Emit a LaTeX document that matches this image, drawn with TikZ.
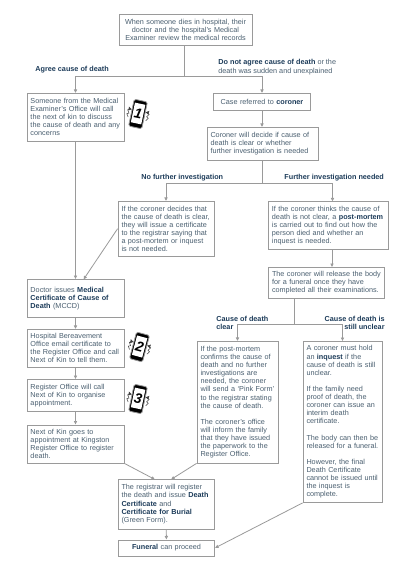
\documentclass[tikz,border=0pt]{standalone}
\usepackage{fontspec}
\setmainfont{Liberation Sans}
\usetikzlibrary{arrows.meta}
\definecolor{linegray}{HTML}{9A9A9A}
\definecolor{bodyblue}{HTML}{4A5F70}
\definecolor{headblue}{HTML}{1D3C5A}
\newcommand{\hl}[1]{\textbf{\textcolor{headblue}{#1}}}
\newcommand{\phonemark}[5]{%
  \begin{scope}[shift={(#1,#2)},rotate=#5]
    \draw [fill=black,rounded corners=1.5] (-6.7,-13.7) rectangle (6.7,13.7);
    \fill [white] (-5.3,-9.5) rectangle (5.3,10.5);
    \node [digit,rotate=#5] (#3) at (0,0.5) {#4};
    \draw [zigzag] (-9,-5) -- (-11,-2) -- (-9,-1) -- (-11,2) -- (-9,3) -- (-10.5,5.5);
    \draw [zigzag] (9,-5) -- (11,-2) -- (9,-1) -- (11,2) -- (9,3) -- (10.5,5.5);
  \end{scope}}
\tikzset{
  box/.style={draw=linegray,line width=0.8pt,fill=white,inner sep=3.5pt,align=left,
    text=bodyblue,font=\fontsize{7.25}{8.1}\selectfont},
  midbox/.style={box,align=center},
  branch/.style={text=headblue,inner sep=0pt,font=\fontsize{7.25}{8.6}\selectfont\bfseries},
  digit/.style={inner sep=0pt,text=black,font=\fontsize{14}{14}\selectfont\bfseries\itshape},
  zigzag/.style={black!75,line width=0.5pt},
}
\begin{document}
\begin{tikzpicture}[x=1pt,y=1pt,->,>={Latex[length=3.6pt,width=3.8pt]},linegray,line width=0.8pt]
  \useasboundingbox (0,0) rectangle (400,-566);
  \fill [white] (0,0) rectangle (400,-566);
  % left column
  \node [midbox,text width=126pt,minimum height=31pt] (records) at (185.5,-30) {When someone dies in hospital, their\\doctor and the hospital's Medical\\Examiner review the medical records};
  \node [box,text width=90pt,minimum height=47.5pt] (call) at (75.5,-117.2) {Someone from the Medical\\Examiner's Office will call\\the next of kin to discuss\\the cause of death and any\\concerns};
  \node [box,text width=90pt,minimum height=38pt] (mccd) at (75.5,-298.5) {Doctor issues \hl{Medical}\\\hl{Certificate of Cause of}\\\hl{Death} (MCCD)\\[8.1pt]};
  \node [box,text width=90pt,minimum height=37.5pt] (email) at (75.5,-348.2) {Hospital Bereavement\\Office email certificate to\\the Register Office and call\\Next of Kin to tell them.};
  \node [box,text width=90pt,minimum height=32pt] (organise) at (75.5,-395.5) {Register Office will call\\Next of Kin to organise\\appointment.};
  \node [box,text width=90pt,minimum height=38pt] (appoint) at (75.5,-444) {Next of Kin goes to\\appointment at Kingston\\Register Office to register\\death.};
  % coroner column
  \node [midbox,text width=90pt,minimum height=16.5pt] (referred) at (262,-101.7) {Case referred to \hl{coroner}};
  \node [box,text width=104pt,minimum height=32.5pt] (decide) at (262.5,-143.7) {Coroner will decide if cause of\\death is clear or whether\\further investigation is needed};
  \node [box,text width=89pt,minimum height=54.5pt] (clear) at (166,-228.7) {If the coroner decides that\\the cause of death is clear,\\they will issue a certificate\\to the registrar saying that\\a post-mortem or inquest\\is not needed.};
  \node [box,text width=112.5pt,minimum height=48pt] (thinks) at (328.2,-225.5) {If the coroner thinks the cause of\\death is not clear, a \hl{post-mortem}\\is carried out to find out how the\\person died and whether an\\inquest is needed.};
  \node [box,text width=109pt,minimum height=31pt] (release) at (326.5,-283) {The coroner will release the body\\for a funeral once they have\\completed all their examinations.};
  \node [box,text width=74pt,minimum height=121.5pt] (pink) at (237.5,-402.2) {If the post-mortem\\confirms the cause of\\death and no further\\investigations are\\needed, the coroner\\will send a `Pink Form'\\to the registrar stating\\the cause of death.\\[8.1pt]The coroner's office\\will inform the family\\that they have issued\\the paperwork to the\\Register Office.};
  \node [box,text width=72pt,minimum height=161pt] (inquest) at (342.5,-422) {A coroner must hold\\an \hl{inquest} if the\\cause of death is still\\unclear.\\[8.1pt]If the family need\\proof of death, the\\coroner can issue an\\interim death\\certificate.\\[8.1pt]The body can then be\\released for a funeral.\\[8.1pt]However, the final\\Death Certificate\\cannot be issued until\\the inquest is\\complete.};
  % bottom
  \node [box,text width=89pt,minimum height=49.5pt] (registrar) at (166,-504.2) {The registrar will register\\the death and issue \hl{Death}\\\hl{Certificate} and\\\hl{Certificate for Burial}\\(Green Form).};
  \node [midbox,text width=89pt,minimum height=16pt] (funeral) at (166.5,-548) {\hl{Funeral} can proceed};
  % branch labels
  \node [branch,anchor=west] (agree) at (35,-69.5) {Agree cause of death};
  \node [branch,anchor=west,align=left] (disagree) at (218,-67.3) {Do not agree cause of death \textmd{\textcolor{bodyblue}{or the}}\\\textmd{\textcolor{bodyblue}{death was sudden and unexplained}}};
  \node [branch,anchor=west] (nofurther) at (141,-177.5) {No further investigation};
  \node [branch,anchor=west] (further) at (284,-177.5) {Further investigation needed};
  \node [branch,anchor=west,align=left] (deathclear) at (216,-323) {Cause of death\\clear};
  \node [branch,anchor=east,align=right] (deathunclear) at (385,-323) {Cause of death is\\still unclear};
  % phones
  \phonemark{138}{-114}{one}{1}{-12}
  \phonemark{139.5}{-347}{two}{2}{-15}
  \phonemark{138}{-399}{three}{3}{-12}
  % split points
  \coordinate (split) at (184.5,-76.5);
  \coordinate (splittwo) at (262.5,-183.5);
  \coordinate (splitthree) at (294.5,-324.5);
  \coordinate (mccdin) at (83.5,-279.5);
  \coordinate (registrarleft) at (155,-479.5);
  \coordinate (registrarright) at (171,-479.5);
  \draw [-] (records.south -| split) -- (split);
  \draw (split) -| (call.north);
  \draw (split) -| (referred.north);
  \draw (referred) -- (referred |- decide.north);
  \draw [-] (decide.south -| splittwo) -- (splittwo);
  \draw (splittwo) -| (clear.north);
  \draw (splittwo) -| (332.5,-201.5);
  \draw (thinks.south -| 332,0) -- (release.north -| 332,0);
  \draw [-] (release.south -| splitthree) -- (splitthree);
  \draw (splitthree) -| (pink.north);
  \draw (splitthree) -| (inquest.north);
  \draw (call) -- (mccd);
  \draw (clear.west) -- (mccdin);
  \draw (mccd) -- (email);
  \draw (email) -- (organise);
  \draw (organise) -- (appoint);
  \draw (appoint.south east) -- (registrarleft);
  \draw (pink.south west) -- (registrarright);
  \draw (registrar) -- (funeral);
  \draw (inquest.south west) -- (funeral.east);
\end{tikzpicture}
\end{document}
